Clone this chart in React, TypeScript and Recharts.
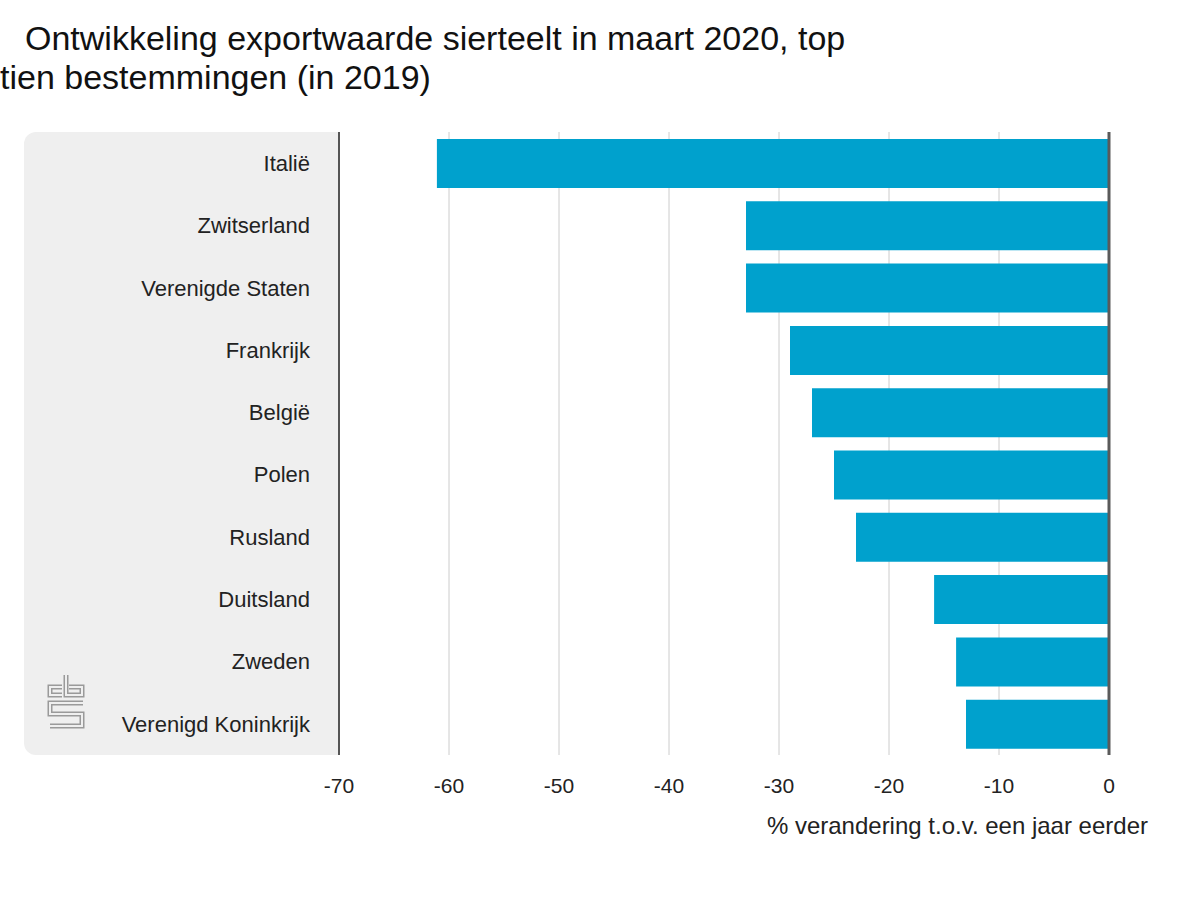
import React from 'react';
import { BarChart, Bar, XAxis, YAxis, CartesianGrid, ReferenceLine } from 'recharts';

const landen = [
  'Italië',
  'Zwitserland',
  'Verenigde Staten',
  'Frankrijk',
  'België',
  'Polen',
  'Rusland',
  'Duitsland',
  'Zweden',
  'Verenigd Koninkrijk',
];
const mutatie = [-61.1, -33.0, -33.0, -29.0, -27.0, -25.0, -23.0, -15.9, -13.9, -13.0];
const xTicks = [-70, -60, -50, -40, -30, -20, -10, 0];

const data = landen.map((land, i) => ({ land, mutatie: mutatie[i] }));

const font = '"Liberation Sans", Arial, sans-serif';

// cbs logo, double outline made of a dark stroke with a lighter one on top
const Logo = () => {
  const paths = [
    'M62 687 H50 V695 H62',
    'M66 675 V695 H82 V687 H69',
    'M83 703 H50 V714 H82 V726 H50',
  ];
  return (
    <svg width={100} height={80} style={{ position: 'absolute', left: 0, top: 665 }} viewBox="0 665 100 80">
      {paths.map((d) => (
        <path key={d + 'a'} d={d} fill="none" stroke="#9a9a9a" strokeWidth={5} />
      ))}
      {paths.map((d) => (
        <path key={d + 'b'} d={d} fill="none" stroke="#efefef" strokeWidth={2} />
      ))}
    </svg>
  );
};

const App = () => {
  return (
    <div style={{ position: 'relative', width: 1200, height: 900, fontFamily: font, background: '#fff' }}>
      <style>{'body{margin:0}'}</style>
      <div style={{ position: 'absolute', left: 25, top: 21, fontSize: 34, lineHeight: '34px', color: '#111', whiteSpace: 'nowrap' }}>
        Ontwikkeling exportwaarde sierteelt in maart 2020, top
      </div>
      <div style={{ position: 'absolute', left: 0, top: 60, fontSize: 34, lineHeight: '34px', color: '#111', whiteSpace: 'nowrap' }}>
        tien bestemmingen (in 2019)
      </div>
      <div
        style={{
          position: 'absolute',
          left: 24,
          top: 132,
          width: 315,
          height: 623,
          background: '#efefef',
          borderRadius: '12px 0 0 12px',
        }}
      />
      <Logo />
      <div style={{ position: 'absolute', left: 0, top: 0 }}>
        <BarChart
          layout="vertical"
          width={1200}
          height={900}
          data={data}
          margin={{ top: 132, right: 91, bottom: 85, left: 24 }}
        >
          <CartesianGrid horizontal={false} stroke="#cccccc" />
          <XAxis
            type="number"
            domain={[-70, 0]}
            ticks={xTicks}
            axisLine={false}
            tickLine={false}
            tickSize={0}
            tickMargin={23}
            height={60}
            tick={{ fill: '#222', fontSize: 21, fontFamily: font }}
          />
          <YAxis
            type="category"
            dataKey="land"
            width={315}
            axisLine={{ stroke: '#555', strokeWidth: 2 }}
            tickLine={false}
            tickSize={0}
            tickMargin={29}
            tick={{ fill: '#222', fontSize: 22, fontFamily: font }}
          />
          <Bar dataKey="mutatie" fill="#00a1cd" barSize={49} isAnimationActive={false} />
          <ReferenceLine x={0} stroke="#5a5a5a" strokeWidth={3} />
        </BarChart>
      </div>
      <div style={{ position: 'absolute', right: 52, top: 814, fontSize: 24, lineHeight: '24px', color: '#222', whiteSpace: 'nowrap' }}>
        % verandering t.o.v. een jaar eerder
      </div>
    </div>
  );
};

export default App;
